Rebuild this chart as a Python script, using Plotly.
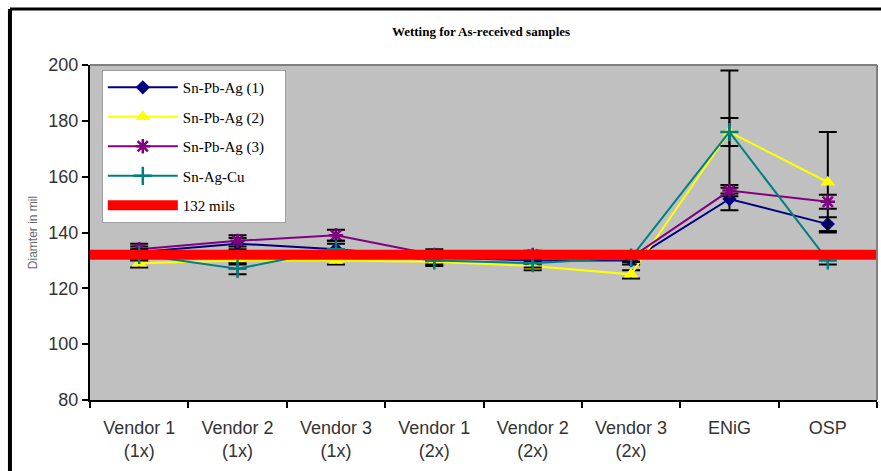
import plotly.graph_objects as go

categories = ["Vendor 1<br>(1x)", "Vendor 2<br>(1x)", "Vendor 3<br>(1x)", "Vendor 1<br>(2x)",
              "Vendor 2<br>(2x)", "Vendor 3<br>(2x)", "ENiG", "OSP"]
snpbag1 = [133, 136, 134, 131, 130, 130, 152, 143]
snpbag1_err = [2, 2, 2, 1.5, 1.5, 1.5, 4, 2.5]
snpbag2 = [129, 130, 130, 129.5, 128, 125, 176, 158]
snpbag2_err = [1.5, 1.5, 1.5, 1.5, 1.5, 1.5, 22, 18]
snpbag3 = [134, 137, 139, 132, 132, 131, 155, 151]
snpbag3_err = [2, 2, 2, 2, 1.5, 1.5, 2, 2.5]
snagcu = [132, 127, 134, 130, 129, 131, 176, 130]
snagcu_err = [2, 2, 3, 1.5, 1.5, 1.5, 5, 1.5]
ref_value = 132
y_ticks = [80, 100, 120, 140, 160, 180, 200]

xpos = [i + 0.5 for i in range(len(categories))]

fig = go.Figure()

def add_series(name, vals, errs, color, symbol, size, mline=None):
    marker = dict(symbol=symbol, size=size, color=color)
    if mline:
        marker["line"] = dict(color=color, width=mline)
    fig.add_trace(go.Scatter(
        x=xpos, y=vals, name=name + "\u00a0\u00a0\u00a0\u00a0", mode="lines+markers",
        line=dict(color=color, width=2), marker=marker,
        error_y=dict(type="data", array=errs, visible=True, color="black", thickness=2, width=9),
        legendgroup=name,
    ))

add_series("Sn-Pb-Ag (1)", snpbag1, snpbag1_err, "#000080", "diamond", 11)
add_series("Sn-Pb-Ag (2)", snpbag2, snpbag2_err, "#FFFF00", "triangle-up", 13)
add_series("Sn-Pb-Ag (3)", snpbag3, snpbag3_err, "#800080", "asterisk-open", 12, 2.5)
add_series("Sn-Ag-Cu", snagcu, snagcu_err, "#008080", "cross-thin-open", 13, 2.5)

fig.add_trace(go.Scatter(
    x=[0, len(categories)], y=[ref_value, ref_value], name="132 mils", mode="lines",
    line=dict(color="#FF0000", width=10), xaxis="x2", legendgroup="ref",
))

fig.update_layout(
    width=881, height=471,
    margin=dict(l=90, r=4, t=65, b=71),
    paper_bgcolor="white",
    plot_bgcolor="#C0C0C0",
    title=dict(text="<b>Wetting for As-received samples</b>", x=0.546, xref="container",
               y=1 - 31 / 471, yref="container", yanchor="middle", xanchor="center",
               font=dict(family="Liberation Serif", size=13, color="black")),
    xaxis=dict(range=[0, len(categories)], tickvals=xpos, ticktext=categories,
               ticks="outside", ticklen=10, tickcolor="rgba(0,0,0,0)", automargin=False,
               showgrid=False, zeroline=False, showline=True, linecolor="black", linewidth=2,
               tickfont=dict(family="Liberation Sans", size=18, color="#333333"),
               minor=dict(ticks="outside", tick0=0, dtick=1, ticklen=6, tickwidth=2, tickcolor="black", showgrid=False)),
    xaxis2=dict(range=[0, len(categories)], overlaying="x", showticklabels=False, showgrid=False,
                zeroline=False, showline=False, ticks=""),
    yaxis=dict(range=[80, 200], tickvals=y_ticks, ticks="outside", ticklen=6, tickwidth=2, tickcolor="black",
               showgrid=False, zeroline=False, showline=True, linecolor="black", linewidth=2, automargin=False,
               tickfont=dict(family="Liberation Sans", size=18, color="#333333"),
               title=dict(text="Diamter in mil", standoff=8,
                          font=dict(family="Liberation Sans", size=12, color="#666666"))),
    legend=dict(x=0.015, y=0.985, xanchor="left", yanchor="top",
                bgcolor="white", bordercolor="#A0A0A0", borderwidth=1,
                font=dict(family="Liberation Serif", size=15, color="black"),
                itemwidth=70, tracegroupgap=7, traceorder="grouped"),
    showlegend=True,
    shapes=[
        dict(type="line", xref="paper", yref="paper", x0=0, x1=1, y0=1, y1=1,
             line=dict(color="#808080", width=2)),
        dict(type="line", xref="paper", yref="paper", x0=1, x1=1, y0=0, y1=1,
             line=dict(color="#808080", width=2)),
        dict(type="line", xref="paper", yref="paper", x0=-0.1017, x1=1.02, y0=1.167, y1=1.167,
             line=dict(color="black", width=3)),
        dict(type="line", xref="paper", yref="paper", x0=-0.1017, x1=-0.1017, y0=-0.23, y1=1.167,
             line=dict(color="black", width=4)),
    ],
)

fig.write_html("out.html", config={"displayModeBar": False},
               post_script="document.body.style.margin='0';document.body.style.overflow='hidden';")
